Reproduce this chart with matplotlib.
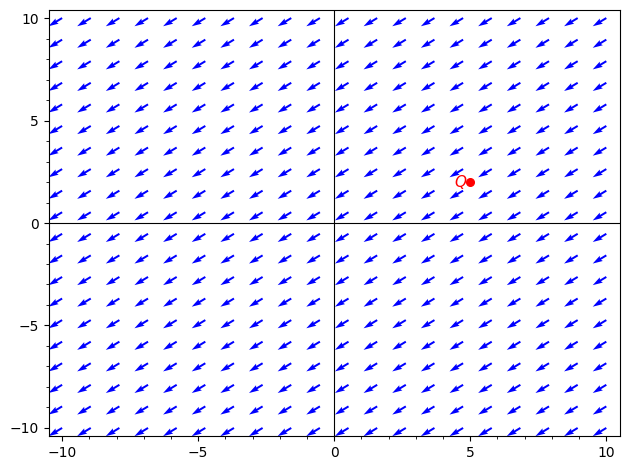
import numpy as np
import matplotlib
matplotlib.use("Agg")
import matplotlib.pyplot as plt
from matplotlib.ticker import MultipleLocator

# grid of the vector field (20 x 20 points over [-10, 10])
x_min, x_max = -10, 10
y_min, y_max = -10, 10
n_points = 20

# constant field direction read from the arrows
field_u = -1.0
field_v = -0.8

# marked point
q_x = [5]
q_y = [2]
q_label = "$Q$"

xs = np.linspace(x_min, x_max, n_points)
ys = np.linspace(y_min, y_max, n_points)
X, Y = np.meshgrid(xs, ys)
U = np.full_like(X, field_u)
V = np.full_like(Y, field_v)

fig = plt.figure(figsize=(6.3, 4.7), dpi=100)
ax = fig.add_axes([0.077, 0.072, 0.907, 0.907])

ax.quiver(X, Y, U, V, color="blue", angles="xy", pivot="tail", width=0.0035)
ax.plot(q_x, q_y, "o", color="red", markersize=5.5)
ax.text(q_x[0] - 0.35, q_y[0], q_label, color="red", fontsize=11,
        ha="center", va="center")

ax.axhline(0, color="black", lw=0.8)
ax.axvline(0, color="black", lw=0.8)

ax.set_xlim(-10.5, 10.5)
ax.set_ylim(-10.4, 10.4)
ax.xaxis.set_major_locator(MultipleLocator(5))
ax.yaxis.set_major_locator(MultipleLocator(5))
ax.xaxis.set_minor_locator(MultipleLocator(1))
ax.yaxis.set_minor_locator(MultipleLocator(1))

fig.savefig("out.png", dpi=100)
